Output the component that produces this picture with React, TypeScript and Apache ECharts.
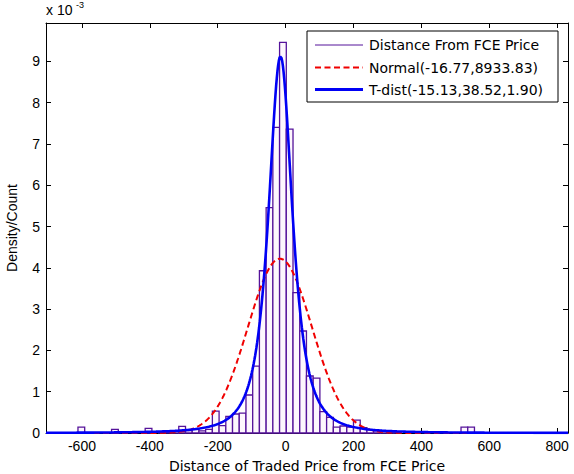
import { useEffect, useRef } from "react";
import * as echarts from "echarts";

// Histogram of the distance between traded price and FCE price (density, x 1e-3)
const BIN_WIDTH = 19.8;
const BIN_CENTRES = [
  -601.9, -502.9, -403.9, -364.3, -344.5, -324.7, -304.9, -285.1, -265.3, -245.5,
  -225.7, -205.9, -186.1, -166.3, -146.5, -126.7, -106.9, -87.1, -67.3, -47.5,
  -27.7, -7.9, 11.9, 31.7, 51.5, 71.3, 91.1, 110.9, 130.7, 150.5,
  170.3, 190.1, 209.9, 229.7, 249.5, 269.3, 289.1, 308.9, 328.7, 526.7,
  546.5,
];
const DENSITY = [
  0.14, 0.09, 0.11, 0.03, 0.02, 0.04, 0.16, 0.06, 0.09, 0.05,
  0.09, 0.53, 0.18, 0.4, 0.46, 0.48, 0.92, 1.62, 3.93, 5.46,
  7.4, 9.46, 7.36, 3.4, 2.47, 1.38, 1.33, 0.52, 0.38, 0.14,
  0.17, 0.14, 0.31, 0.13, 0.08, 0.05, 0.04, 0.03, 0.02, 0.14,
  0.14,
];

// Fitted distributions, as given in the legend
const NORMAL_FIT = { mean: -16.77, variance: 8933.83 };
const T_FIT = { mu: -15.13, sigma: 38.52, nu: 1.9 };

const LEGEND_LABELS = [
  "Distance From FCE Price",
  "Normal(-16.77,8933.83)",
  "T-dist(-15.13,38.52,1.90)",
];

const X_MIN = -706;
const X_MAX = 832;
const Y_MAX = 9.93;
const X_TICKS = [-600, -400, -200, 0, 200, 400, 600, 800];
const Y_TICKS = [0, 1, 2, 3, 4, 5, 6, 7, 8, 9];
const Y_SCALE = 1000; // densities plotted in units of 1e-3

const PURPLE = "#55139a";
const RED = "#f00000";
const BLUE = "#0000f5";

function lnGamma(z: number): number {
  const g = 7;
  const c = [
    0.99999999999980993, 676.5203681218851, -1259.1392167224028,
    771.32342877765313, -176.61502916214059, 12.507343278686905,
    -0.13857109526572012, 9.9843695780195716e-6, 1.5056327351493116e-7,
  ];
  if (z < 0.5) return Math.log(Math.PI / Math.sin(Math.PI * z)) - lnGamma(1 - z);
  z -= 1;
  let x = c[0];
  for (let i = 1; i < g + 2; i++) x += c[i] / (z + i);
  const t = z + g + 0.5;
  return 0.5 * Math.log(2 * Math.PI) + (z + 0.5) * Math.log(t) - t + Math.log(x);
}

function normalPdf(x: number): number {
  const sd = Math.sqrt(NORMAL_FIT.variance);
  const z = (x - NORMAL_FIT.mean) / sd;
  return Math.exp(-0.5 * z * z) / (sd * Math.sqrt(2 * Math.PI));
}

function tPdf(x: number): number {
  const { mu, sigma, nu } = T_FIT;
  const t = (x - mu) / sigma;
  const logC =
    lnGamma((nu + 1) / 2) - lnGamma(nu / 2) - 0.5 * Math.log(nu * Math.PI) - Math.log(sigma);
  return Math.exp(logC - ((nu + 1) / 2) * Math.log(1 + (t * t) / nu));
}

function curve(pdf: (x: number) => number): number[][] {
  const pts: number[][] = [];
  for (let x = X_MIN; x <= X_MAX; x += 2) pts.push([x, pdf(x) * Y_SCALE]);
  return pts;
}

const TICK_FONT = "'Liberation Sans', Arial, sans-serif";
const TEXT_FONT = "'DejaVu Sans', Verdana, sans-serif";

function axisBase(isX: boolean, showLabels: boolean, position: string) {
  const ticks = isX ? X_TICKS : Y_TICKS;
  return {
    type: "value",
    position,
    min: isX ? X_MIN : 0,
    max: isX ? X_MAX : Y_MAX,
    axisLine: { show: true, onZero: false, lineStyle: { color: "#000", width: 1 } },
    axisTick: {
      show: true,
      inside: true,
      length: 5,
      customValues: ticks,
      lineStyle: { color: "#000", width: 1 },
    },
    axisLabel: {
      show: showLabels,
      customValues: ticks,
      color: "#000",
      fontFamily: TICK_FONT,
      fontSize: 14,
      margin: 6,
    },
    splitLine: { show: false },
  };
}

export default function App() {
  const ref = useRef<HTMLDivElement>(null);

  useEffect(() => {
    if (!ref.current) return;
    const chart = echarts.init(ref.current, undefined, { renderer: "svg" });

    const bins = BIN_CENTRES.map((c, i) => [c, DENSITY[i]]);
    const legendX = 307;
    const legendY = 31;
    const rowY = [45, 67.5, 89.5];

    chart.setOption({
      animation: false,
      backgroundColor: "#fff",
      grid: { left: 46, right: 6, top: 23, bottom: 41, outerBoundsMode: "none" },
      xAxis: [axisBase(true, true, "bottom"), axisBase(true, false, "top")],
      yAxis: [axisBase(false, true, "left"), axisBase(false, false, "right")],
      series: [
        {
          type: "custom",
          xAxisIndex: 0,
          yAxisIndex: 0,
          data: bins,
          encode: { x: 0, y: 1 },
          renderItem: (_params: any, api: any) => {
            const c = api.value(0);
            const h = api.value(1);
            const p0 = api.coord([c - BIN_WIDTH / 2, h]);
            const p1 = api.coord([c + BIN_WIDTH / 2, 0]);
            return {
              type: "rect",
              shape: { x: p0[0], y: p0[1], width: p1[0] - p0[0], height: p1[1] - p0[1] },
              style: { fill: "#fdf6fd", stroke: PURPLE, lineWidth: 1.3 },
            };
          },
          z: 1,
        },
        {
          type: "line",
          name: LEGEND_LABELS[1],
          data: curve(normalPdf),
          showSymbol: false,
          lineStyle: { color: RED, width: 2, type: [6, 3.5] },
          z: 2,
        },
        {
          type: "line",
          name: LEGEND_LABELS[2],
          data: curve(tPdf),
          showSymbol: false,
          lineStyle: { color: BLUE, width: 2.6 },
          z: 3,
        },
      ],
      graphic: [
        {
          type: "text",
          left: 46,
          top: 3,
          style: { text: "x 10", fontFamily: TICK_FONT, fontSize: 14, fill: "#000" },
        },
        {
          type: "text",
          x: 76,
          y: 0,
          style: {
            text: "-3",
            fontFamily: TICK_FONT,
            fontSize: 9,
            fill: "#000",
            verticalAlign: "top",
          },
        },
        {
          type: "text",
          x: 12,
          y: 228,
          rotation: Math.PI / 2,
          style: {
            text: "Density/Count",
            fontFamily: TICK_FONT,
            fontSize: 14,
            fill: "#000",
            align: "center",
            verticalAlign: "middle",
          },
        },
        {
          type: "text",
          x: 307,
          y: 466,
          style: {
            text: "Distance of Traded Price from FCE Price",
            fontFamily: TEXT_FONT,
            fontSize: 14,
            fill: "#000",
            align: "center",
            verticalAlign: "middle",
          },
        },
        {
          type: "group",
          z: 100,
          children: [
            {
              type: "rect",
              shape: { x: legendX, y: legendY, width: 251, height: 71 },
              style: { fill: "#fff", stroke: "#000", lineWidth: 1 },
            },
            {
              type: "line",
              shape: { x1: 315, y1: rowY[0], x2: 363, y2: rowY[0] },
              style: { stroke: PURPLE, lineWidth: 1 },
            },
            {
              type: "line",
              shape: { x1: 315, y1: rowY[1], x2: 363, y2: rowY[1] },
              style: { stroke: RED, lineWidth: 2, lineDash: [6, 3.5] },
            },
            {
              type: "line",
              shape: { x1: 315, y1: rowY[2], x2: 363, y2: rowY[2] },
              style: { stroke: BLUE, lineWidth: 3 },
            },
            ...LEGEND_LABELS.map((label, i) => ({
              type: "text",
              x: 369,
              y: rowY[i],
              style: {
                text: label,
                fontFamily: TEXT_FONT,
                fontSize: 14,
                fill: "#000",
                verticalAlign: "middle",
              },
            })),
          ],
        },
      ],
    });

    return () => chart.dispose();
  }, []);

  return (
    <div
      ref={ref}
      style={{ position: "absolute", left: 0, top: 0, width: 574, height: 474 }}
    />
  );
}
